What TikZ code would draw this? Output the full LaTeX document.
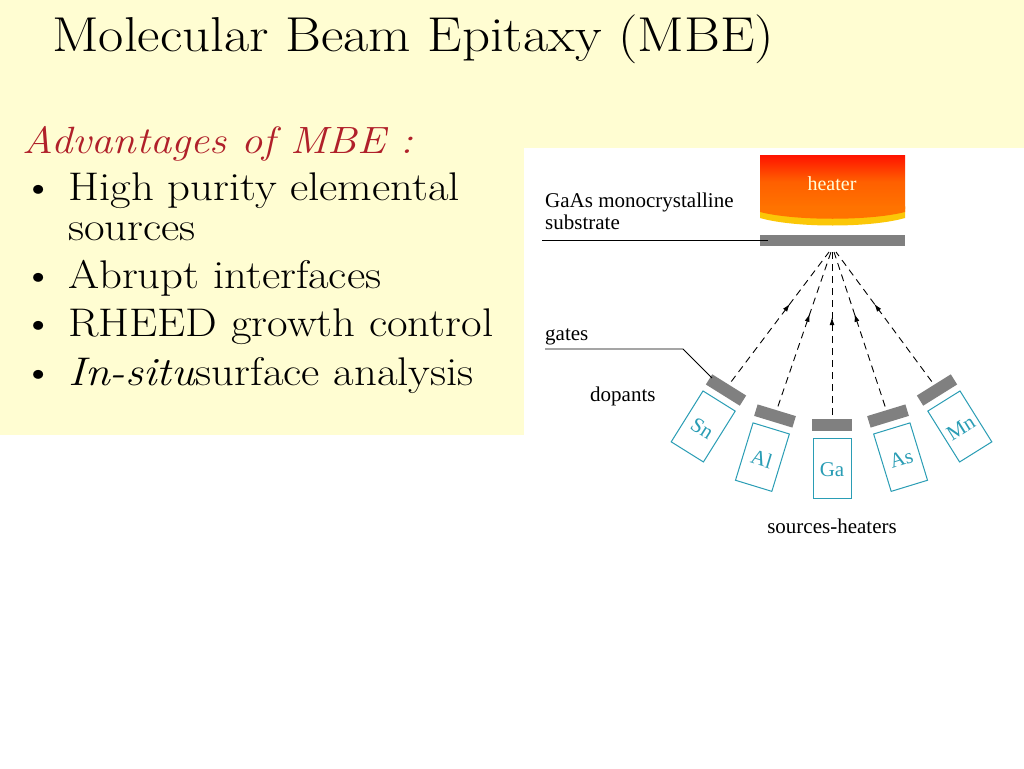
\documentclass[tikz,border=0pt]{standalone}
\usepackage{fontspec}
\setmainfont{Latin Modern Roman}[FakeStretch=1.12]
\newfontfamily\tms{Liberation Serif}
\usetikzlibrary{decorations.markings,arrows.meta}
\definecolor{bgy}{HTML}{FFFDD2}
\definecolor{cellc}{HTML}{2A9DB5}
\definecolor{dred}{HTML}{B0202A}
\definecolor{gbar}{HTML}{808080}
\tikzset{
  gatebar/.style={fill=gbar,draw=none},
  cellbox/.style={draw=cellc,line width=1pt},
  celltext/.style={text=cellc,font=\tms\fontsize{21}{23}\selectfont,inner sep=0},
  lbl/.style={font=\tms\fontsize{21}{23}\selectfont,anchor=base west,inner sep=0},
  beam/.style={dashed,dash pattern=on 7pt off 5pt,line width=0.9pt,
    decoration={markings,mark=at position 0.6 with {\arrow{Latex[length=8pt,width=5pt]}}},postaction={decorate}},
  bul/.style={font=\fontsize{40}{44}\selectfont,anchor=base west,inner sep=0},
}
\begin{document}
\begin{tikzpicture}[x=1pt,y=-1pt]
\useasboundingbox (0,0) rectangle (1024,768);
\fill[white] (0,0) rectangle (1024,768);
\fill[bgy] (0,0) rectangle (1024,148);
\fill[bgy] (0,0) rectangle (524,435);
\node[anchor=base west,inner sep=0,font=\fontsize{49}{52}\selectfont] (title) at (52,52) {Molecular Beam Epitaxy (MBE)};
\node[bul,text=dred,font=\itshape\fontsize{38}{40}\selectfont] (adv) at (22,153) {Advantages of MBE :};
\node[bul] (b1) at (22,200) {\textbullet};
\node[bul] (t1) at (68,200) {High purity elemental};
\node[bul] (t1b) at (68,240) {sources};
\node[bul] (b2) at (22,288) {\textbullet};
\node[bul] (t2) at (68,288) {Abrupt interfaces};
\node[bul] (b3) at (22,336) {\textbullet};
\node[bul] (t3) at (68,336) {RHEED growth control};
\node[bul] (b4) at (22,385) {\textbullet};
\node[bul] (t4) at (68,385) {\textit{In-situ}surface analysis};
% heater
\shade[top color=red!85!orange,bottom color=orange!90!red,middle color=orange!75!red]
  (760,155) -- (905,155) -- (905,208) -- (760,208) -- cycle;
\fill[yellow!60!orange] (760,207) -- (905,207) -- (905,218) .. controls (870,228) and (795,228) .. (760,218) -- cycle;
\fill[orange!90!red] (760,206) -- (905,206) -- (905,212) .. controls (870,221) and (795,221) .. (760,212) -- cycle;
\node[font=\tms\fontsize{20}{22}\selectfont,text=white!85!yellow] (heater) at (832,184) {heater};
\fill[gatebar] (760,235) rectangle (905,246);
\coordinate (focus) at (832,252);
\node[lbl] (gaas) at (545,207) {GaAs monocrystalline};
\node[lbl] (subs) at (545,229) {substrate};
\coordinate (subL) at (542,240);
\coordinate (subR) at (768,240);
\draw[line width=0.8pt] (subL) -- (subR);
% cells
\foreach \nm/\lab/\x/\y/\a in {sn/Sn/726/390/-32, al/Al/775/416/-17, ga/Ga/832/425/0, as/As/888/416/17, mn/Mn/937/390/32}{
  \begin{scope}[shift={(\x,\y)},rotate=\a]
    \fill[gatebar] (-20,-6) rectangle (20,6);
    \draw[cellbox] (-19,13) rectangle (19,73);
    \node[celltext,rotate=\a] (\nm) at (0,45) {\lab};
    \coordinate (\nm top) at (0,-10);
  \end{scope}
}
\foreach \nm/\fx in {sn/829,al/831,ga/832,as/834,mn/836}{
  \coordinate (\nm f) at (\fx,252);
  \draw[beam] (\nm top) -- (\nm f);
}
\node[lbl] (gates) at (545,340) {gates};
\coordinate (gA) at (545,349);
\coordinate (gB) at (683,349);
\coordinate (gC) at (712,378);
\draw[line width=0.8pt] (gA) -- (gB) -- (gC);
\node[lbl] (dop) at (590,401) {dopants};
\node[font=\tms\fontsize{21}{23}\selectfont,anchor=base,inner sep=0] (src) at (832,533) {sources-heaters};
\end{tikzpicture}
\end{document}
